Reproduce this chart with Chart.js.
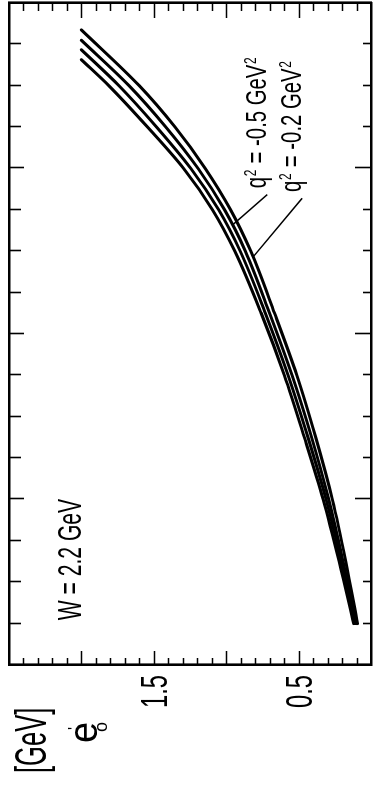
<!DOCTYPE html>
<html>
<head>
<meta charset="utf-8">
<script src="https://cdn.jsdelivr.net/npm/chart.js@4.4.1/dist/chart.umd.min.js"></script>
<style>
  html, body { margin: 0; padding: 0; background: #fff; overflow: hidden; }
  /* the plot is laid out landscape and stood on its end */
  #page {
    position: absolute; left: 0; top: 0;
    width: 793px; height: 374px;
    transform-origin: 0 0;
    transform: translateY(793px) rotate(-90deg);
  }
  canvas { display: block; }
</style>
</head>
<body>
<div id="page"><canvas id="chart" width="793" height="374"></canvas></div>
<script>
// common abscissa of the four curves (unlabelled axis)
const tGrid = [1, 2.5, 4, 5.5, 7, 8.5, 10, 11, 12, 13, 14];

// e'_0 in GeV along tGrid, outermost curve first
const e1 = [0.093, 0.174, 0.267, 0.382, 0.512, 0.666, 0.83, 0.969, 1.144, 1.353, 1.60];
const e2 = [0.103, 0.193, 0.292, 0.41, 0.545, 0.7, 0.867, 1.011, 1.194, 1.416, 1.67];
const e3 = [0.111, 0.206, 0.31, 0.435, 0.572, 0.729, 0.903, 1.052, 1.244, 1.48, 1.74];
const e4 = [0.12, 0.22, 0.33, 0.46, 0.598, 0.758, 0.94, 1.094, 1.294, 1.543, 1.81];

// every curve stops at e'_0 = 2 GeV
const tEnd = [15.35, 15.1, 14.87, 14.63];
const eEnd = 2.0;

const eTicks = [0.5, 1.5];
const qLabels = ['q\u00b2 = -0.2 GeV\u00b2', 'q\u00b2 = -0.5 GeV\u00b2'];
const wLabel = 'W = 2.2 GeV';

function points(e, tLast) {
  const pts = tGrid.map((t, i) => ({ x: t, y: e[i] }));
  pts.push({ x: tLast, y: eEnd });
  return pts;
}

function valueAt(pts, t) {
  for (let i = 1; i < pts.length; i++) {
    if (t <= pts[i].x) {
      const a = pts[i - 1], b = pts[i];
      return a.y + (b.y - a.y) * (t - a.x) / (b.x - a.x);
    }
  }
  return pts[pts.length - 1].y;
}

const curves = [e1, e2, e3, e4].map((e, i) => points(e, tEnd[i]));

const FONT = '"Liberation Sans", Arial, sans-serif';

function squeezed(ctx, str, x, y, size, sx, align) {
  ctx.save();
  ctx.font = size + 'px ' + FONT;
  ctx.textAlign = align || 'left';
  ctx.textBaseline = 'alphabetic';
  ctx.translate(x, y);
  ctx.scale(sx, 1);
  ctx.fillText(str, 0, 0);
  ctx.restore();
}

// condensed text where every "²" is set as a raised, smaller 2
function withSup(ctx, str, x, y, size, sx) {
  ctx.save();
  ctx.translate(x, y);
  ctx.scale(sx, 1);
  ctx.textBaseline = 'alphabetic';
  let pos = 0;
  str.split('\u00b2').forEach((piece, i, all) => {
    ctx.font = size + 'px ' + FONT;
    ctx.fillText(piece, pos, 0);
    pos += ctx.measureText(piece).width;
    if (i < all.length - 1) {
      ctx.font = Math.round(size * 0.6) + 'px ' + FONT;
      ctx.fillText('2', pos + 1, -size * 0.33);
      pos += ctx.measureText('2').width + 2;
    }
  });
  ctx.restore();
}

const isStep = (v, step) => Math.abs(v / step - Math.round(v / step)) < 1e-6;

// inward tick marks on all four sides of the frame
const frameTicks = {
  id: 'frameTicks',
  afterDraw(chart) {
    const { ctx, chartArea: a, scales: s } = chart;
    ctx.save();
    ctx.strokeStyle = '#000';
    ctx.lineWidth = 1.6;
    ctx.beginPath();
    s.y.ticks.forEach(tk => {
      if (tk.value <= s.y.min || tk.value >= s.y.max) return;
      const p = Math.round(s.y.getPixelForValue(tk.value)) + 0.5;
      const major = isStep(tk.value, 0.5);
      ctx.moveTo(a.left, p); ctx.lineTo(a.left + (major ? 14 : 7), p);
      ctx.moveTo(a.right, p); ctx.lineTo(a.right - (major ? 15 : 8), p);
    });
    s.x.ticks.forEach(tk => {
      if (tk.value <= s.x.min || tk.value >= s.x.max) return;
      const p = Math.round(s.x.getPixelForValue(tk.value)) + 0.5;
      const major = isStep(tk.value, 4);
      ctx.moveTo(p, a.top); ctx.lineTo(p, a.top + (major ? 15 : 12));
      ctx.moveTo(p, a.bottom); ctx.lineTo(p, a.bottom - (major ? 16 : 8));
    });
    ctx.stroke();
    ctx.restore();
  }
};

// axis numbers, axis title and curve annotations
const annotations = {
  id: 'annotations',
  afterDraw(chart) {
    const { ctx, chartArea: a, scales: s } = chart;
    const X = v => s.x.getPixelForValue(v);
    const Y = v => s.y.getPixelForValue(v);
    ctx.save();
    ctx.fillStyle = '#000';

    eTicks.forEach(v => squeezed(ctx, String(v), a.left - 10, Y(v) + 13, 36, 0.66, 'right'));

    squeezed(ctx, '[GeV]', 20, 46, 44, 0.58);
    squeezed(ctx, 'e', 50, 97, 40, 0.95);
    squeezed(ctx, "'", 63, 80, 16, 1);
    squeezed(ctx, 'o', 61, 107, 18, 1);

    squeezed(ctx, wLabel, X(1.08), Y(2.0), 33, 0.64);

    // q^2 labels with their leader lines
    const labelAt = [{ t: 11.43, e: 0.486, to: 9.86 }, { t: 11.52, e: 0.727, to: 10.63 }];
    ctx.strokeStyle = '#000';
    ctx.lineWidth = 1.5;
    labelAt.forEach((l, i) => {
      withSup(ctx, qLabels[i], X(l.t), Y(l.e), 29, 0.7);
      ctx.beginPath();
      ctx.moveTo(X(l.t - 0.15), Y(l.e - 0.01));
      ctx.lineTo(X(l.to), Y(valueAt(curves[i], l.to)));
      ctx.stroke();
    });
    ctx.restore();
  }
};

const axisBase = {
  type: 'linear',
  grid: { display: false, drawTicks: false },
  border: { display: true, color: '#000', width: 2.6 },
  ticks: { display: false }
};

new Chart(document.getElementById('chart').getContext('2d'), {
  type: 'line',
  data: {
    datasets: curves.map(pts => ({
      data: pts,
      borderColor: '#000',
      borderWidth: 3,
      borderCapStyle: 'round',
      pointRadius: 0,
      cubicInterpolationMode: 'monotone',
      fill: false
    }))
  },
  options: {
    responsive: false,
    animation: false,
    devicePixelRatio: 1,
    layout: { padding: { left: 128, right: 3, top: 9, bottom: 3 } },
    plugins: { legend: { display: false }, tooltip: { enabled: false } },
    scales: {
      x: { ...axisBase, position: 'bottom', min: 0, max: 16, ticks: { display: false, stepSize: 1 } },
      x2: { ...axisBase, position: 'top', min: 0, max: 16 },
      y: { ...axisBase, position: 'left', min: 0, max: 2.5, ticks: { display: false, stepSize: 0.1 } },
      y2: { ...axisBase, position: 'right', min: 0, max: 2.5 }
    }
  },
  plugins: [frameTicks, annotations]
});
</script>
</body>
</html>
